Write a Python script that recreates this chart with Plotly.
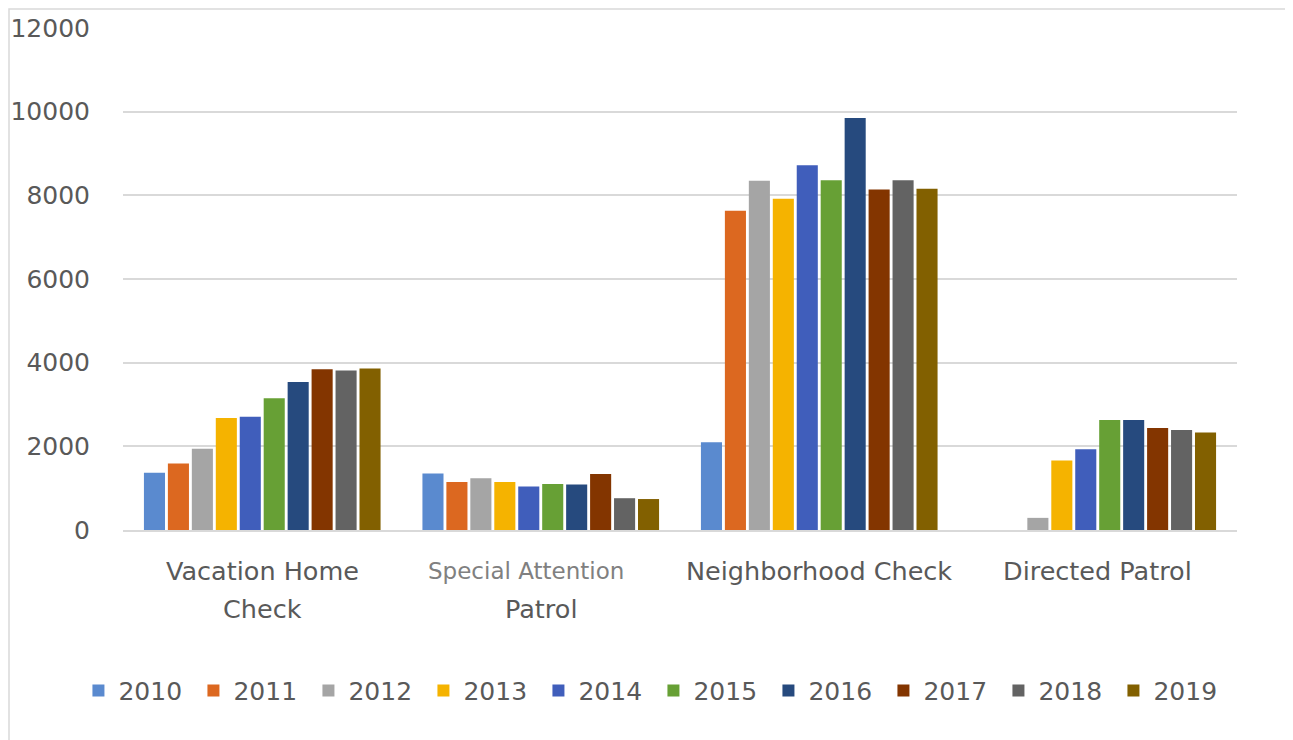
import plotly.graph_objects as go

categories = ["Vacation Home Check", "Special Attention Patrol", "Neighborhood Check", "Directed Patrol"]
label_lines = [["Vacation Home", "Check"], ["Special Attention", "Patrol"],
               ["Neighborhood Check"], ["Directed Patrol"]]
years = ["2010", "2011", "2012", "2013", "2014", "2015", "2016", "2017", "2018", "2019"]
values = {
    "2010": [1370, 1350, 2100, None],
    "2011": [1590, 1150, 7630, None],
    "2012": [1940, 1240, 8350, 290],
    "2013": [2680, 1150, 7920, 1660],
    "2014": [2710, 1040, 8720, 1930],
    "2015": [3150, 1100, 8360, 2630],
    "2016": [3540, 1090, 9850, 2630],
    "2017": [3840, 1340, 8140, 2440],
    "2018": [3810, 760, 8360, 2390],
    "2019": [3860, 740, 8160, 2330],
}
colors = ["#5A8ACF", "#DC6820", "#A5A5A5", "#F5B300", "#405EBB",
          "#67A035", "#264A7E", "#833500", "#636363", "#826000"]
yticks = [0, 2000, 4000, 6000, 8000, 10000, 12000]
yticktext = ["0", "2000", "4000", "6000", "8000", "10000", "12000"]

FONT = "DejaVu Sans"
fig = go.Figure()
for y, c in zip(years, colors):
    fig.add_trace(go.Bar(
        x=categories, y=values[y], name=y,
        marker=dict(color=c, line=dict(width=0)),
    ))

annotations = []
for cat, lines in zip(categories, label_lines):
    for i, line in enumerate(lines):
        special = (line == "Special Attention")
        annotations.append(dict(
            x=cat, xref="x", y=-0.0817 - 0.0757 * i, yref="paper",
            text=line, showarrow=False, xanchor="center", yanchor="middle",
            xshift=-15 if special else 0,
            font=dict(family=FONT, size=23 if special else 25.5,
                      color="#808080" if special else "#595959"),
        ))

L, T, PW, PH = 115, 20, 1114, 502
fig.update_layout(
    width=1293, height=740,
    paper_bgcolor="white", plot_bgcolor="white",
    margin=dict(l=L, r=1293 - L - PW, t=T, b=740 - T - PH),
    barmode="group", bargap=0.14, bargroupgap=0.12,
    font=dict(family=FONT, size=24, color="#595959"),
    showlegend=True,
    legend=dict(orientation="h", x=-0.04, xanchor="left", y=-0.32, yanchor="middle",
                font=dict(family=FONT, size=25, color="#595959"), traceorder="normal",
                entrywidth=70, entrywidthmode="pixels", itemsizing="constant"),
    xaxis=dict(tickmode="array", tickvals=categories, ticktext=[""] * 4,
               showgrid=False, showline=True, linecolor="#D9D9D9", linewidth=1.5,
               ticks="", automargin=False),
    yaxis=dict(range=[0, 12000], tickvals=yticks, ticktext=yticktext, showgrid=True,
               gridcolor="#D9D9D9", gridwidth=1.5, zeroline=False, showline=False,
               tickfont=dict(family=FONT, size=25, color="#595959"), ticklabelstandoff=32,
               automargin=False),
    annotations=annotations,
    shapes=[dict(type="rect", xref="paper", yref="paper",
                 x0=(1 - L) / PW, x1=(1282 - L) / PW, y0=-0.6, y1=1 + (T - 1) / PH,
                 line=dict(color="#D9D9D9", width=1.5))],
)

fig.write_html("out.html")
